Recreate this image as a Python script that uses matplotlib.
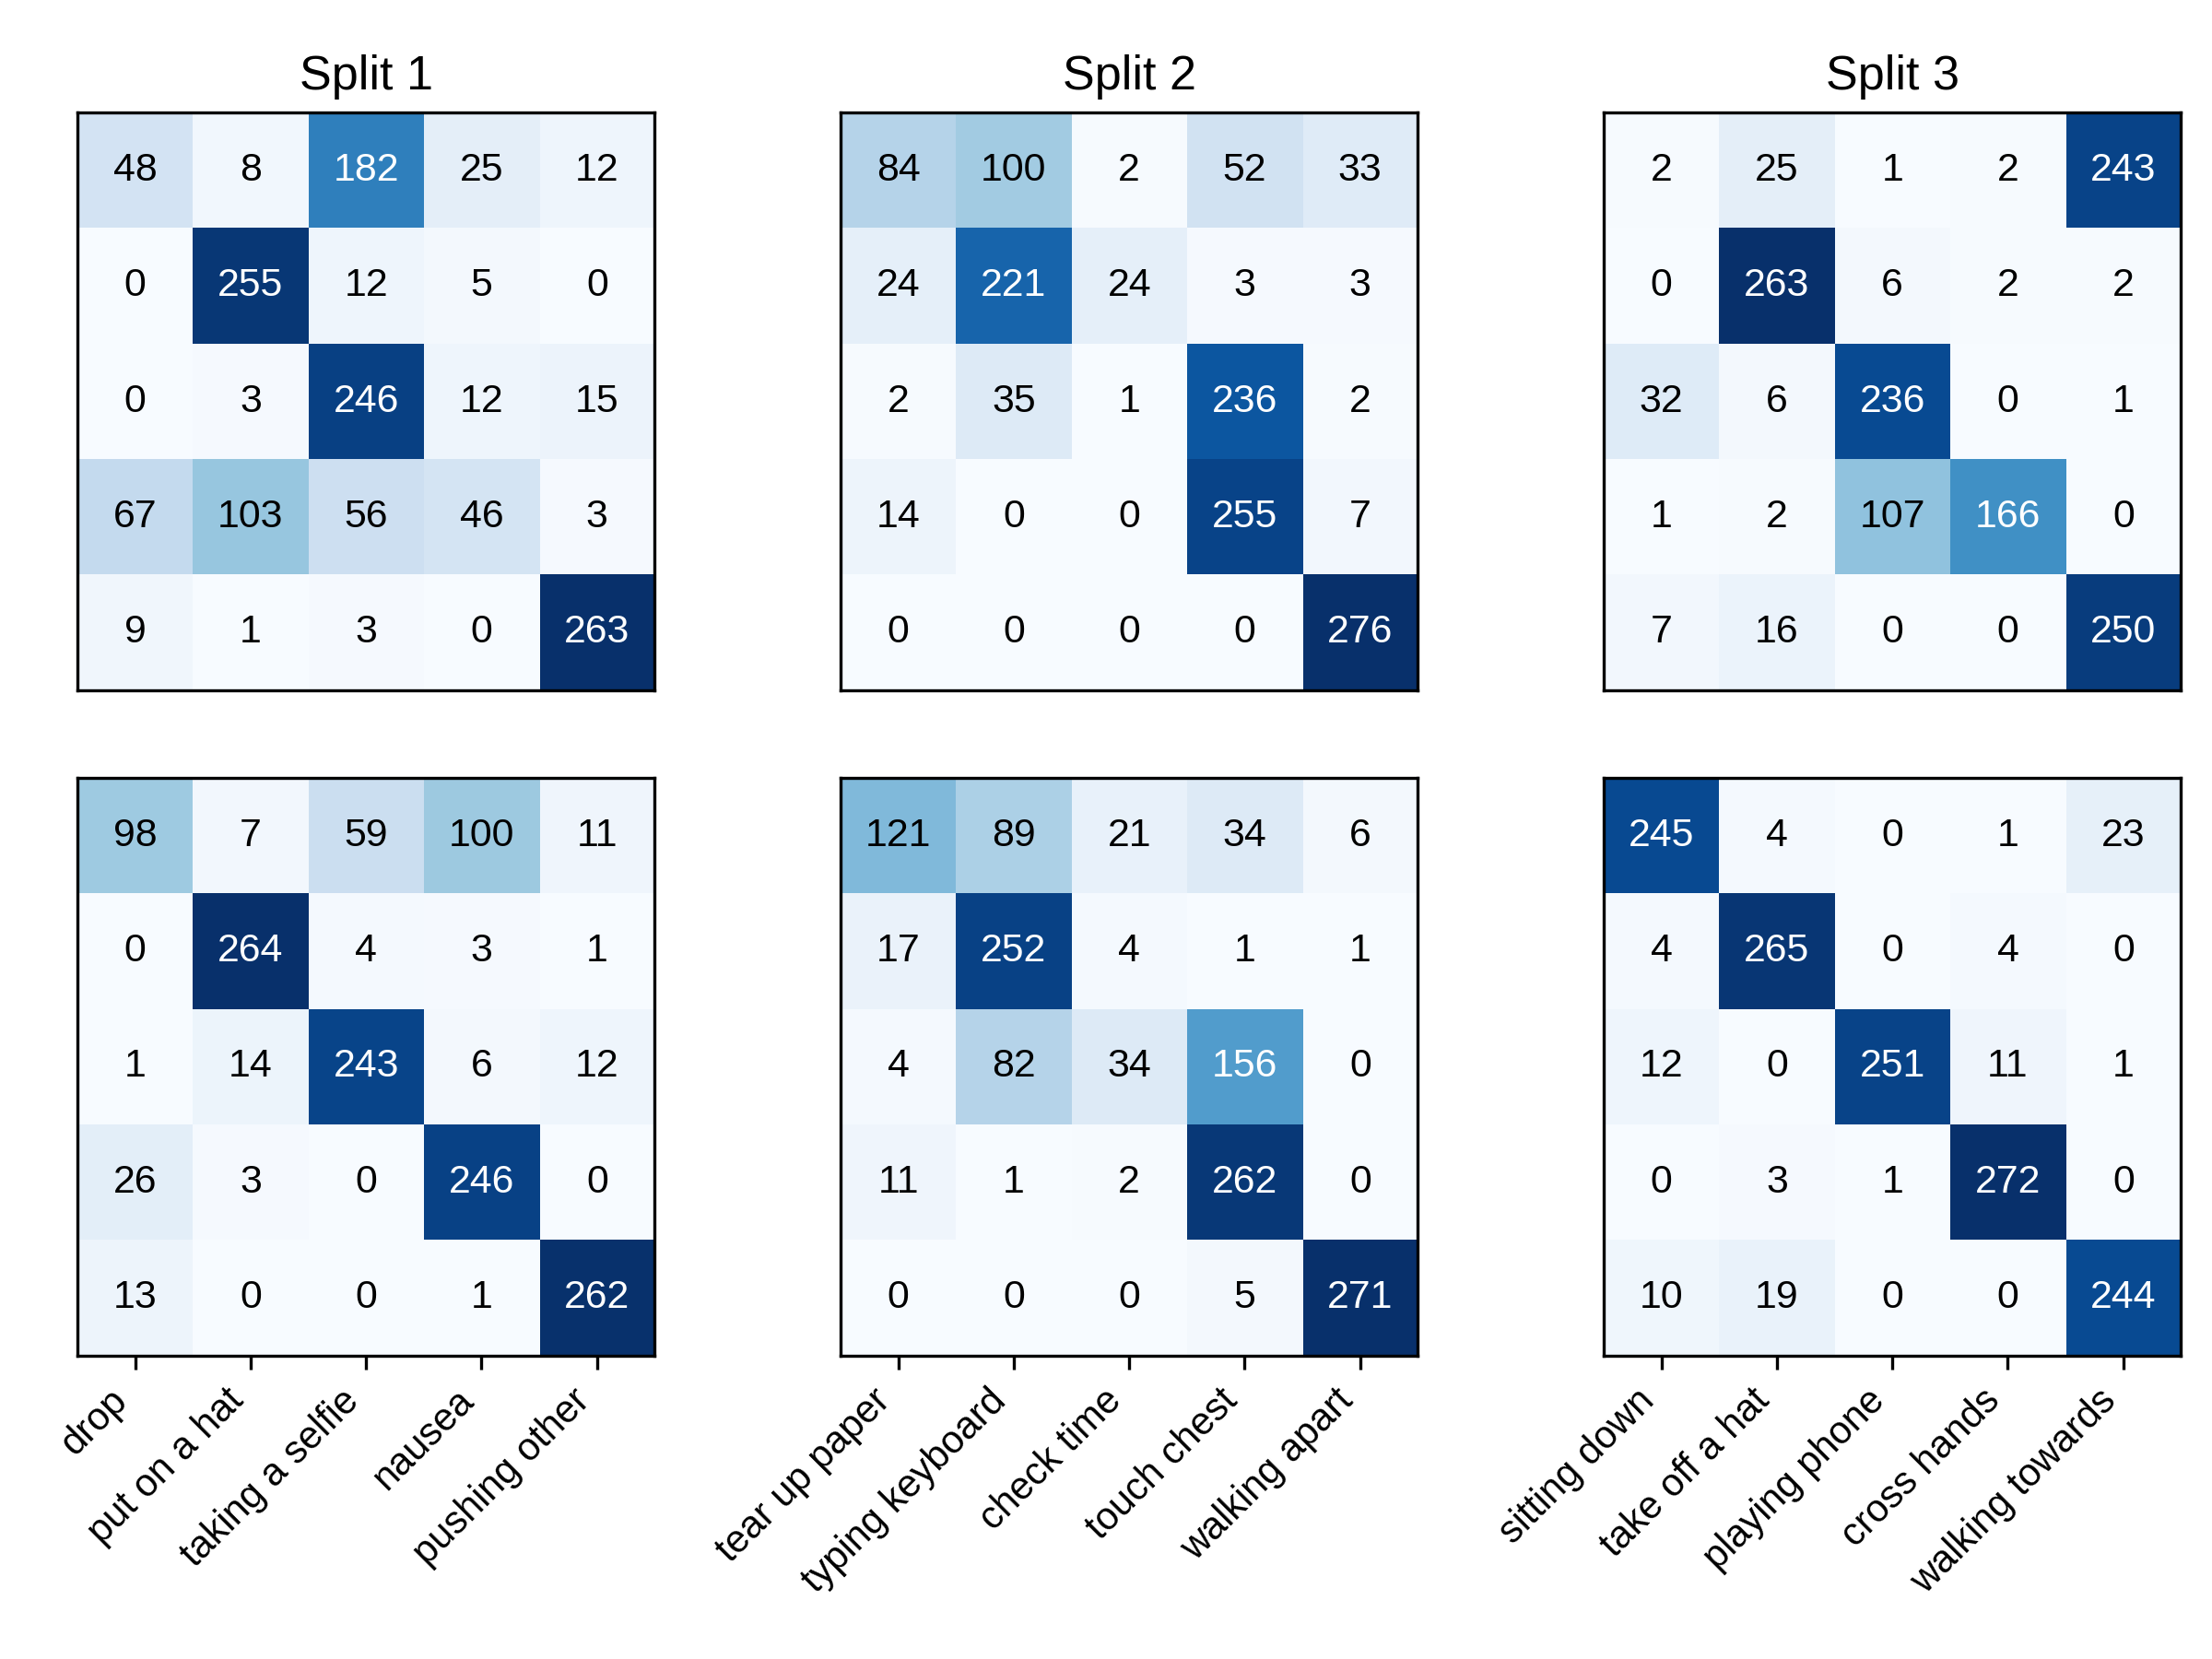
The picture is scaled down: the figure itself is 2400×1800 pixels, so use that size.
import numpy as np
import matplotlib
matplotlib.use("Agg")
import matplotlib.pyplot as plt

plt.rcParams['font.family'] = ['Liberation Sans', 'DejaVu Sans']

split_titles = ["Split 1", "Split 2", "Split 3"]

labels_1 = ["drop", "put on a hat", "taking a selfie", "nausea", "pushing other"]
labels_2 = ["tear up paper", "typing keyboard", "check time", "touch chest", "walking apart"]
labels_3 = ["sitting down", "take off a hat", "playing phone", "cross hands", "walking towards"]

# top row
top_1 = [[48, 8, 182, 25, 12],
         [0, 255, 12, 5, 0],
         [0, 3, 246, 12, 15],
         [67, 103, 56, 46, 3],
         [9, 1, 3, 0, 263]]
top_2 = [[84, 100, 2, 52, 33],
         [24, 221, 24, 3, 3],
         [2, 35, 1, 236, 2],
         [14, 0, 0, 255, 7],
         [0, 0, 0, 0, 276]]
top_3 = [[2, 25, 1, 2, 243],
         [0, 263, 6, 2, 2],
         [32, 6, 236, 0, 1],
         [1, 2, 107, 166, 0],
         [7, 16, 0, 0, 250]]

# bottom row
bot_1 = [[98, 7, 59, 100, 11],
         [0, 264, 4, 3, 1],
         [1, 14, 243, 6, 12],
         [26, 3, 0, 246, 0],
         [13, 0, 0, 1, 262]]
bot_2 = [[121, 89, 21, 34, 6],
         [17, 252, 4, 1, 1],
         [4, 82, 34, 156, 0],
         [11, 1, 2, 262, 0],
         [0, 0, 0, 5, 271]]
bot_3 = [[245, 4, 0, 1, 23],
         [4, 265, 0, 4, 0],
         [12, 0, 251, 11, 1],
         [0, 3, 1, 272, 0],
         [10, 19, 0, 0, 244]]

tops = [top_1, top_2, top_3]
bots = [bot_1, bot_2, bot_3]
labels = [labels_1, labels_2, labels_3]

fig = plt.figure(figsize=(8, 6), dpi=300)

lefts = [0.035, 0.380, 0.725]
w = 0.261
h = 0.350
bottoms = [0.583, 0.182]


def draw_cm(ax, cm, names, show_x):
    cm = np.array(cm)
    ax.imshow(cm, cmap="Blues", vmin=0, vmax=cm.max(), interpolation="nearest")
    thresh = cm.max() / 2.0
    for i in range(cm.shape[0]):
        for j in range(cm.shape[1]):
            ax.text(j, i, str(cm[i, j]), ha="center", va="center", fontsize=10.3,
                    color="white" if cm[i, j] > thresh else "black")
    ax.set_yticks([])
    if show_x:
        ax.set_xticks(range(len(names)))
        ax.set_xticklabels(names, rotation=45, ha="right", fontsize=10)
    else:
        ax.set_xticks([])


for k in range(3):
    ax = fig.add_axes([lefts[k], bottoms[0], w, h])
    draw_cm(ax, tops[k], labels[k], False)
    ax.set_title(split_titles[k], fontsize=12.5)
    ax2 = fig.add_axes([lefts[k], bottoms[1], w, h])
    draw_cm(ax2, bots[k], labels[k], True)

fig.savefig("out.png", dpi=300)
